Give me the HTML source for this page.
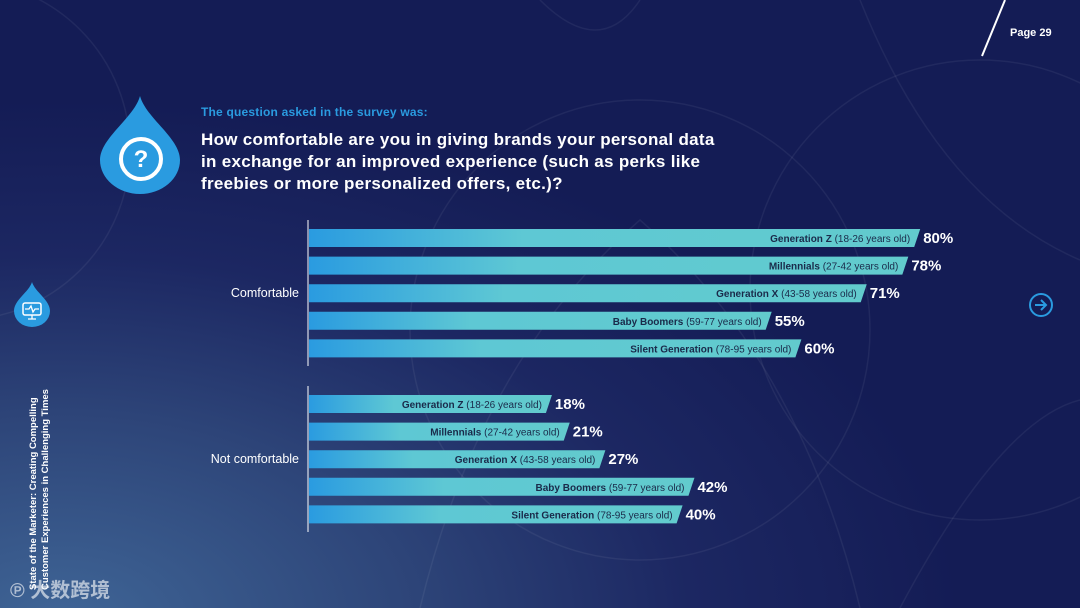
<!DOCTYPE html>
<html><head><meta charset="utf-8"><style>
*{margin:0;padding:0;box-sizing:border-box}
body{width:1080px;height:608px;overflow:hidden;font-family:"Liberation Sans","Noto Sans CJK SC",sans-serif}
#root{position:relative;width:1080px;height:608px;background:radial-gradient(ellipse 900px 520px at 60px 620px,#3f6596 0%,#2d4478 40%,#1c2762 70%,#141c55 100%);overflow:hidden}
.abs{position:absolute}
</style></head><body>
<div id="root">
<svg class="abs" style="left:0;top:0" width="1080" height="608">
 <g fill="none" stroke="rgba(255,255,255,0.06)" stroke-width="1.5">
  <circle cx="-40" cy="150" r="170"/><circle cx="640" cy="330" r="230"/><circle cx="980" cy="290" r="230"/>
  <path d="M540 0 Q600 60 640 0"/><path d="M420 608 Q480 360 640 220 Q800 360 860 608"/>
  <path d="M860 0 Q940 200 1080 260"/><path d="M900 608 Q1000 420 1080 400"/>
 </g>
 <line x1="1005" y1="0" x2="982" y2="56" stroke="#fff" stroke-width="2"/>
</svg>
<div class="abs" style="left:1010px;top:27px;color:#fff;font-size:11px;font-weight:bold">Page 29</div>
<svg class="abs" style="left:100px;top:94px" width="80" height="100">
 <path d="M40 2 C46 24 80 44 80 66 A40 34 0 0 1 0 66 C0 44 34 24 40 2Z" fill="#2a9be0"/>
 <circle cx="41" cy="65" r="20" fill="none" stroke="#fff" stroke-width="4"/>
 <text x="41" y="73" text-anchor="middle" fill="#fff" font-size="24" font-weight="bold" font-family="Liberation Sans">?</text>
</svg>
<svg class="abs" style="left:13px;top:282px" width="38" height="46">
 <path d="M19 0 C22 10 37 18 37 29 A18 16 0 0 1 1 29 C1 18 16 10 19 0Z" fill="#2a9be0"/>
 <rect x="10" y="21" width="18" height="12" rx="2" fill="none" stroke="#fff" stroke-width="1.5"/>
 <path d="M12 27 L16 27 L18 24 L20 30 L22 27 L26 27 M15 37 L23 37 M19 33 L19 37" fill="none" stroke="#fff" stroke-width="1.3"/>
</svg>
<svg class="abs" style="left:1028px;top:292px" width="26" height="26">
 <circle cx="13" cy="13" r="11" fill="none" stroke="#2a9be0" stroke-width="2"/>
 <path d="M7 13 H18 M13 8 L18 13 L13 18" fill="none" stroke="#2a9be0" stroke-width="2"/>
</svg>
<div class="abs" style="left:201px;top:105px;color:#2a9be0;font-size:12px;font-weight:bold;letter-spacing:0.2px">The question asked in the survey was:</div>
<div class="abs" style="left:201px;top:129px;color:#fff;font-size:17px;font-weight:bold;line-height:22px;width:540px;letter-spacing:0.3px">How comfortable are you in giving brands your personal data<br>in exchange for an improved experience (such as perks like<br>freebies or more personalized offers, etc.)?</div>
<div class="abs" style="left:28px;top:590px;transform-origin:0 0;transform:rotate(-90deg);color:#fff;font-size:9.5px;font-weight:bold;line-height:12px;white-space:nowrap">State of the Marketer: Creating Compelling<br>Customer Experiences in Challenging Times</div>
<div class="abs" style="left:10px;top:574px;color:rgba(255,255,255,0.6);font-size:20px;font-weight:bold">℗ 大数跨境</div>
<svg class="abs" id="chart" style="left:0;top:0" width="1080" height="608">
 <defs><linearGradient id="bg" x1="0" x2="1"><stop offset="0" stop-color="#2a9be0"/><stop offset="0.35" stop-color="#5ec8d4"/><stop offset="1" stop-color="#62cbcd"/></linearGradient></defs>
</svg>
</div>
<script>
const groups=["Comfortable","Not comfortable"];
const generations=["Generation Z","Millennials","Generation X","Baby Boomers","Silent Generation"];
const ages=["(18-26 years old)","(27-42 years old)","(43-58 years old)","(59-77 years old)","(78-95 years old)"];
const comfortable=[80,78,71,55,60];
const notComfortable=[18,21,27,42,40];
const NS="http://www.w3.org/2000/svg";
const svg=document.getElementById('chart');
const x0=309;
function xScale(v){return 445+5.94*v;}
const groupTop=[229,395], rowStep=27.6, barH=18;
function mk(t,a){const e=document.createElementNS(NS,t);for(const k in a)e.setAttribute(k,a[k]);svg.appendChild(e);return e;}
[comfortable,notComfortable].forEach((vals,g)=>{
 const ax=mk('line',{x1:308,x2:308,y1:groupTop[g]-9,y2:groupTop[g]+5*rowStep-1,stroke:'#fff','stroke-width':1});
 
 
 const gl=mk('text',{x:299,y:groupTop[g]+2*rowStep+barH/2+4,'text-anchor':'end',fill:'#fff','font-size':12.5,'font-family':'Liberation Sans'});
 gl.textContent=groups[g];
 
 
 vals.forEach((v,i)=>{
  const y=groupTop[g]+i*rowStep, xe=xScale(v);
  const b=mk('path',{d:`M${x0} ${y}H${xe}L${xe-6} ${y+barH}H${x0}Z`,fill:'url(#bg)'});
  
  
  const t=mk('text',{x:xe-10,y:y+13,'text-anchor':'end',fill:'#1a2a4a','font-size':10,'font-family':'Liberation Sans'});
  t.innerHTML=`<tspan font-weight="bold">${generations[i]}</tspan> ${ages[i]}`;
  
  
  const vl=mk('text',{x:xe+3,y:y+14,fill:'#fff','font-size':15,'font-weight':'bold','font-family':'Liberation Sans'});
  vl.textContent=v+'%';
  
  
 });
});
</script>
</body></html>
